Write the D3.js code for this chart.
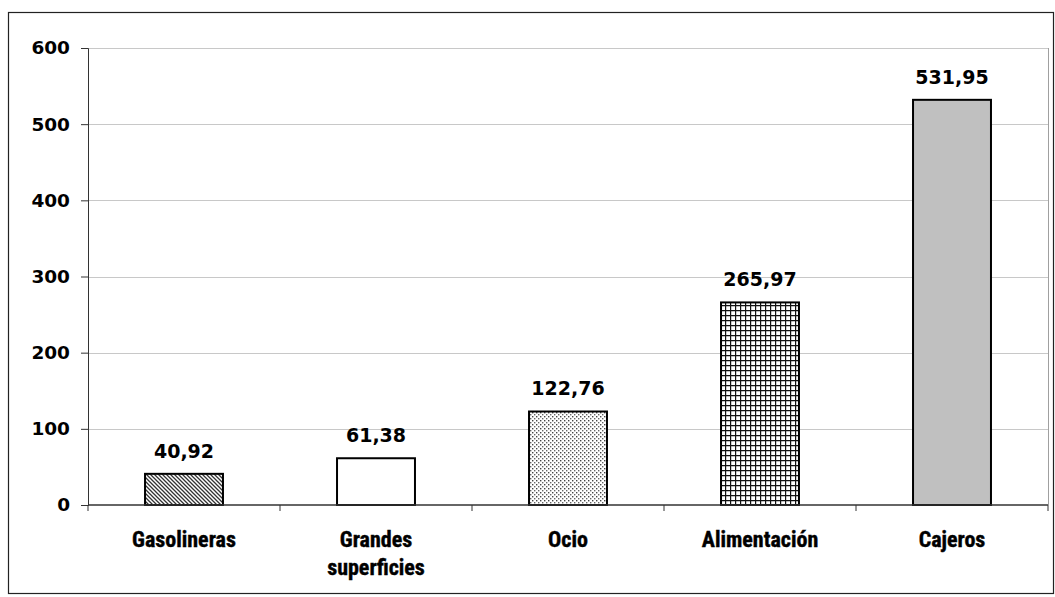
<!DOCTYPE html>
<html>
<head>
<meta charset="utf-8">
<script src="https://cdnjs.cloudflare.com/ajax/libs/d3/7.8.5/d3.min.js"></script>
<style>
  body { margin: 0; background: #fff; }
  .tick text { font-family: "DejaVu Sans", Verdana, sans-serif; font-weight: bold; font-size: 18.5px; fill: #000; }
</style>
</head>
<body>
<div id="root"></div>
<script>
var categories = ["Gasolineras", "Grandes superficies", "Ocio", "Alimentación", "Cajeros"];
var values = [40.92, 61.38, 122.76, 265.97, 531.95];
var yTicks = [0, 100, 200, 300, 400, 500, 600];
var fills = ["url(#hatch)", "#ffffff", "url(#dots)", "url(#grid)", "#c0c0c0"];

var w = 1055, h = 597;
var margin = { top: 48, right: 7, bottom: 92, left: 88 };

var svg = d3.select("#root").append("svg").attr("width", w).attr("height", h);

// patterns
var defs = svg.append("defs");
var p1 = defs.append("pattern").attr("id", "hatch").attr("patternUnits", "userSpaceOnUse")
  .attr("width", 4).attr("height", 4);
p1.append("rect").attr("width", 4).attr("height", 4).attr("fill", "#fff");
p1.append("path").attr("d", "M-1,-1 L5,5 M-1,3 L1,5 M3,-1 L5,1").attr("stroke", "#333").attr("stroke-width", 1.3);

var p2 = defs.append("pattern").attr("id", "dots").attr("patternUnits", "userSpaceOnUse")
  .attr("width", 4).attr("height", 4);
p2.append("rect").attr("width", 4).attr("height", 4).attr("fill", "#fff");
p2.append("rect").attr("x", 0).attr("y", 0).attr("width", 1.4).attr("height", 1.4).attr("fill", "#444");
p2.append("rect").attr("x", 2).attr("y", 2).attr("width", 1.4).attr("height", 1.4).attr("fill", "#666");

var p3 = defs.append("pattern").attr("id", "grid").attr("patternUnits", "userSpaceOnUse")
  .attr("width", 5).attr("height", 5);
p3.append("rect").attr("width", 5).attr("height", 5).attr("fill", "#fff");
p3.append("path").attr("d", "M0,0.5 H5 M0.5,0 V5").attr("stroke", "#111").attr("stroke-width", 1.4);

// outer frame
svg.append("rect").attr("x", 8.5).attr("y", 12.5).attr("width", 1045).attr("height", 581)
  .attr("fill", "#fff").attr("stroke", "#222").attr("stroke-width", 1.2);

var x = d3.scaleBand().domain(categories).range([margin.left, w - margin.right]).paddingInner(0.594).paddingOuter(0.297);
var y = d3.scaleLinear().domain([0, 600]).range([h - margin.bottom, margin.top]);

// gridlines
svg.append("g").selectAll("line").data(yTicks.slice(1)).enter().append("line")
  .attr("x1", margin.left).attr("x2", w - margin.right)
  .attr("y1", function(d) { return Math.round(y(d)) + 0.5; })
  .attr("y2", function(d) { return Math.round(y(d)) + 0.5; })
  .attr("stroke", "#c8c8c8").attr("stroke-width", 1);
// plot area right border
svg.append("line").attr("x1", w - margin.right + 0.5).attr("x2", w - margin.right + 0.5)
  .attr("y1", margin.top).attr("y2", h - margin.bottom)
  .attr("stroke", "#a0a0a0");

// bars
svg.selectAll(".bar").data(values).enter().append("rect").attr("class", "bar")
  .attr("x", function(d, i) { return x(categories[i]); })
  .attr("y", function(d) { return y(d); })
  .attr("width", x.bandwidth())
  .attr("height", function(d) { return y(0) - y(d); })
  .attr("fill", function(d, i) { return fills[i]; })
  .attr("stroke", "#000").attr("stroke-width", 2);

// value labels
svg.selectAll(".val").data(values).enter().append("text").attr("class", "val")
  .attr("x", function(d, i) { return x(categories[i]) + x.bandwidth() / 2; })
  .attr("y", function(d) { return y(d) - 16; })
  .attr("text-anchor", "middle")
  .style("font-family", "'DejaVu Sans', Verdana, sans-serif").style("font-weight", "bold").style("font-size", "19px")
  .text(function(d) { return d3.format(".2f")(d).replace(".", ","); });

// y axis
var yAxis = d3.axisLeft(y).tickValues(yTicks).tickSize(7).tickPadding(11);
var gy = svg.append("g").attr("transform", "translate(" + margin.left + ",0)").call(yAxis);
gy.select(".domain").attr("stroke", "#333");
gy.selectAll(".tick line").attr("stroke", "#333");

// x axis with ticks at category boundaries
var gx = svg.append("g").attr("transform", "translate(0," + y(0) + ")");
gx.append("line").attr("x1", margin.left).attr("x2", w - margin.right).attr("stroke", "#333").attr("stroke-width", 1.5);
var step = x.step();
var bounds = d3.range(categories.length + 1).map(function(i) { return margin.left + i * step; });
gx.selectAll(".xt").data(bounds).enter().append("line")
  .attr("x1", function(d) { return d; }).attr("x2", function(d) { return d; })
  .attr("y1", 0).attr("y2", 6).attr("stroke", "#333");

// category labels
var labs = gx.selectAll(".cat").data(categories).enter().append("text")
  .attr("x", function(d) { return x(d) + x.bandwidth() / 2; })
  .attr("y", 42)
  .attr("text-anchor", "middle")
  .style("font-family", "'Liberation Sans Narrow', 'Arial Narrow', 'Roboto Condensed', sans-serif")
  .style("font-weight", "bold").style("font-size", "22px")
  .style("stroke", "#000").style("stroke-width", 0.4);
labs.each(function(d) {
  var t = d3.select(this);
  var words = d === "Grandes superficies" ? ["Grandes", "superficies"] : [d];
  words.forEach(function(word, i) {
    t.append("tspan").attr("x", t.attr("x")).attr("dy", i === 0 ? 0 : 28).text(word);
  });
});
</script>
</body>
</html>
